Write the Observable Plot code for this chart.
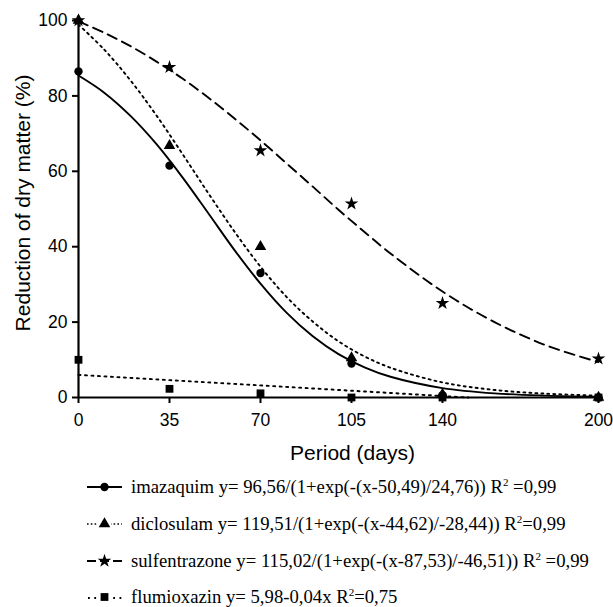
<!DOCTYPE html>
<html><head><meta charset="utf-8">
<script src="https://cdn.jsdelivr.net/npm/d3@7"></script>
<script src="https://cdn.jsdelivr.net/npm/@observablehq/plot@0.6"></script>
<style>
body{margin:0;background:#fff}
#wrap{position:relative;width:613px;height:607px;background:#fff;overflow:hidden}
.leg{position:absolute;left:86px;height:24px;display:flex;align-items:center;font-family:"Liberation Serif","Times New Roman",serif;font-size:18.7px;color:#000;white-space:nowrap}
.leg svg{margin-right:8px;flex:none}
sup{font-size:11px;vertical-align:7px;line-height:0}
</style></head><body><div id="wrap"></div>
<script>
// observed days
const days = [0, 35, 70, 105, 140, 200];
// observed reduction of dry matter (%)
const imazaquim = [86.5, 61.5, 33, 9, 0.6, 0];
const diclosulam = [100, 66.8, 40, 10.5, 0.8, 0];
const sulfentrazone = [100, 87.6, 65.5, 51.4, 25, 10.3];
const flumioxazin = [10, 2.3, 1.1, 0, 0, 0];

// fitted curves
const fitDays = [0, 10, 20, 30, 40, 50, 60, 70, 80, 90, 100, 110, 120, 140, 160, 180, 200];
const imazaquimFit = [85.4, 80.8, 74.7, 67.2, 58.4, 48.8, 39.1, 30.2, 22.5, 16.3, 11.5, 8.0, 5.5, 2.5, 1.1, 0.5, 0.2];
const diclosulamFit = [98.9, 92.2, 84.1, 74.8, 64.6, 54.1, 44.0, 34.7, 26.7, 20.2, 14.9, 10.9, 7.9, 4.0, 2.0, 1.0, 0.5];
const sulfentrazoneFit = [99.8, 96.7, 93.2, 89.1, 84.6, 79.5, 74.0, 68.2, 62.1, 56.0, 49.8, 43.9, 38.2, 28.1, 20.0, 13.8, 9.4];
const flumioxazinFitDays = [0, 150];
const flumioxazinFit = [6.0, 0];

const xTicks = [0, 35, 70, 105, 140, 200];
const yTicks = [0, 20, 40, 60, 80, 100];
const xTitle = "Period (days)";
const yTitle = "Reduction of dry matter (%)";

const legendLabels = [
  "imazaquim y= 96,56/(1+exp(-(x-50,49)/24,76)) R<sup>2</sup> =0,99",
  "diclosulam y= 119,51/(1+exp(-(x-44,62)/-28,44)) R<sup>2</sup>=0,99",
  "sulfentrazone y= 115,02/(1+exp(-(x-87,53)/-46,51)) R<sup>2</sup> =0,99",
  "flumioxazin y= 5,98-0,04x R<sup>2</sup>=0,75"
];

const series = [
  {name: "imazaquim", obs: imazaquim, fitX: fitDays, fit: imazaquimFit, symbol: "circle", r: 4.2, dash: null},
  {name: "diclosulam", obs: diclosulam, fitX: fitDays, fit: diclosulamFit, symbol: "triangle", r: 4.3, dash: "2,4"},
  {name: "sulfentrazone", obs: sulfentrazone, fitX: fitDays, fit: sulfentrazoneFit, symbol: "star", r: 4.3, dash: "10,6"},
  {name: "flumioxazin", obs: flumioxazin, fitX: flumioxazinFitDays, fit: flumioxazinFit, symbol: "square", r: 4.4, dash: "2,4.5"}
];

const marks = [];
for (const s of series) {
  const fitData = s.fitX.map((d, i) => ({x: d, y: s.fit[i]}));
  marks.push(Plot.line(fitData, {x: "x", y: "y", curve: "catmull-rom", stroke: "black", strokeWidth: 1.9, strokeDasharray: s.dash || undefined}));
}
for (const s of series) {
  const obsData = days.map((d, i) => ({x: d, y: s.obs[i]}));
  marks.push(Plot.dot(obsData, {x: "x", y: "y", symbol: s.symbol, r: s.r, fill: "black", stroke: "none"}));
}
marks.push(Plot.ruleX([0], {y1: 0, y2: 100, stroke: "black", strokeWidth: 2.2}));
marks.push(Plot.ruleY([0], {x1: 0, x2: 200, stroke: "black", strokeWidth: 2.2}));
marks.push(Plot.axisX({ticks: xTicks, tickSize: 6, tickPadding: 10, strokeWidth: 2, fontSize: 17.5, label: null}));
marks.push(Plot.axisY({ticks: yTicks, tickSize: 6, tickPadding: 5, strokeWidth: 2, fontSize: 17.5, label: null}));
marks.push(Plot.text([xTitle], {text: d => d, frameAnchor: "bottom", textAnchor: "middle", lineAnchor: "middle", dx: 14, dy: 56, fontSize: 21, fill: "black"}));
marks.push(Plot.text([yTitle], {text: d => d, frameAnchor: "left", textAnchor: "middle", lineAnchor: "middle", rotate: -90, dx: -55, dy: -6, fontSize: 21, fill: "black"}));

const chart = Plot.plot({
  width: 613, height: 470,
  marginLeft: 78, marginRight: 15, marginTop: 20, marginBottom: 73,
  style: {fontFamily: "'Liberation Sans', Arial, sans-serif", fontSize: "17.5px", color: "black", background: "white", overflow: "visible"},
  x: {domain: [0, 200]},
  y: {domain: [0, 100]},
  marks
});
const wrap = document.getElementById("wrap");
wrap.appendChild(chart);

// legend
const rowCenters = [487, 524, 561, 597];
series.forEach((s, i) => {
  const row = document.createElement("div");
  row.className = "leg";
  row.style.top = (rowCenters[i] - 12) + "px";
  const sv = d3.create("svg").attr("width", 37).attr("height", 20);
  if (s.name === "imazaquim") {
    sv.append("line").attr("x1", 1).attr("x2", 36).attr("y1", 10).attr("y2", 10).attr("stroke", "black").attr("stroke-width", 2);
  } else if (s.name === "diclosulam") {
    sv.append("line").attr("x1", 1).attr("x2", 36).attr("y1", 10).attr("y2", 10).attr("stroke", "black").attr("stroke-width", 1.6).attr("stroke-dasharray", "1.6,2.2");
  } else if (s.name === "sulfentrazone") {
    sv.append("line").attr("x1", 1).attr("x2", 36).attr("y1", 10).attr("y2", 10).attr("stroke", "black").attr("stroke-width", 2).attr("stroke-dasharray", "9,4");
  } else {
    sv.append("line").attr("x1", 2).attr("x2", 36).attr("y1", 11).attr("y2", 11).attr("stroke", "black").attr("stroke-width", 1.8).attr("stroke-dasharray", "1.8,4.5");
  }
  const symMap = {circle: d3.symbolCircle, triangle: d3.symbolTriangle, star: d3.symbolStar, square: d3.symbolSquare};
  sv.append("rect").attr("x", 12).attr("y", 3).attr("width", 13).attr("height", 14).attr("fill", s.name === "sulfentrazone" || s.name === "imazaquim" ? "none" : "white");
  sv.append("path").attr("transform", "translate(18.5,10)")
    .attr("d", d3.symbol(symMap[s.symbol], Math.PI * s.r * s.r)()).attr("fill", "black");
  row.appendChild(sv.node());
  const span = document.createElement("span");
  span.innerHTML = legendLabels[i];
  row.appendChild(span);
  wrap.appendChild(row);
});
</script>
</body></html>
